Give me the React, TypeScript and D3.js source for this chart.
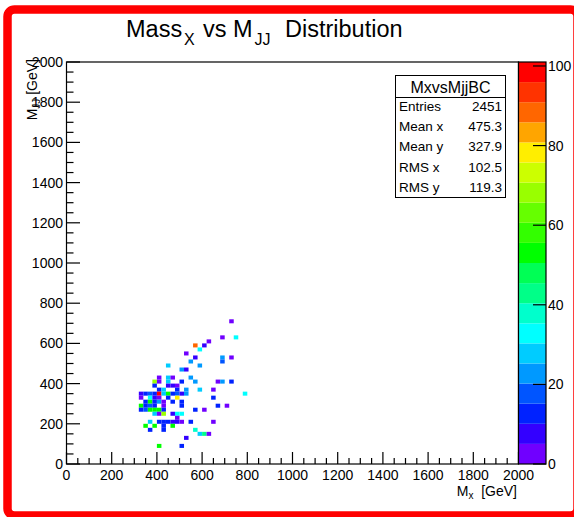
import React from "react";
import * as d3 from "d3";

const xMajorTicks = [0, 200, 400, 600, 800, 1000, 1200, 1400, 1600, 1800, 2000];
const yMajorTicks = [0, 200, 400, 600, 800, 1000, 1200, 1400, 1600, 1800, 2000];
const zTicks = [0, 20, 40, 60, 80, 100];
const binWidth = 20;
const zMax = 101;

// bin lower edges (GeV) and contents
const binX = [
  720, 680, 740, 620, 560, 600, 580, 520, 560, 680, 680, 720, 540, 440, 580, 500, 520,
  400, 440, 460, 540,
  380, 400, 440, 500, 560, 660, 680, 720,
  380, 440, 460, 480,
  400, 420, 480, 520, 580, 640,
  320, 340, 360, 380, 400, 420, 440, 460, 480, 500, 520, 780,
  320, 360, 380, 400, 440, 480, 640,
  340, 360, 380, 400, 420, 460, 500,
  320, 340, 360, 380, 420, 500, 660, 700,
  320, 340, 360, 380, 400, 420, 560, 600,
  380, 400, 420, 460, 480, 500,
  480,
  360, 400, 420, 440, 460, 480, 500, 540, 640,
  340, 380, 420, 460,
  360, 420, 560,
  580, 600, 620,
  520,
  400, 500,
];
const binY = [
  700, 620, 620, 600, 580, 580, 560, 540, 520, 520, 500, 520, 500, 480, 480, 460, 460,
  420, 420, 420, 420,
  400, 400, 400, 400, 400, 400, 400, 400,
  380, 380, 380, 380,
  360, 360, 360, 360, 360, 360,
  340, 340, 340, 340, 340, 340, 340, 340, 340, 340, 340, 340,
  320, 320, 320, 320, 320, 320, 320,
  300, 300, 300, 300, 300, 300, 300,
  280, 280, 280, 280, 280, 280, 280, 280,
  260, 260, 260, 260, 260, 260, 260, 260,
  240, 240, 240, 240, 240, 240,
  220,
  200, 200, 200, 200, 200, 200, 200, 200, 200,
  180, 180, 180, 180,
  160, 160, 160,
  140, 140, 140,
  120,
  80, 80,
];
const binZ = [
  3, 3, 33, 3, 88, 8, 33, 3, 8, 23, 18, 3, 23, 28, 23, 23, 8,
  3, 28, 3, 23,
  70, 3, 28, 13, 23, 3, 23, 13,
  13, 8, 8, 3,
  13, 28, 13, 23, 28, 3,
  8, 13, 18, 13, 98, 28, 53, 13, 18, 8, 23, 33,
  3, 33, 8, 3, 13, 78, 13,
  13, 53, 13, 23, 3, 13, 13,
  53, 13, 18, 13, 3, 13, 13, 3,
  13, 18, 53, 53, 53, 13, 13, 3,
  28, 3, 70, 8, 33, 33,
  3,
  28, 13, 13, 13, 8, 8, 3, 13, 3,
  53, 53, 13, 53,
  13, 13, 38,
  28, 43, 3,
  8,
  53, 13,
];

const paletteColors = [
  "#7000ff", "#3300ff", "#0022ff", "#0055ff", "#0099ff",
  "#00ccff", "#00ffff", "#00ffcc", "#00ff88", "#00ff55",
  "#00ff00", "#33ff00", "#66ff00", "#99ff00", "#ccff00",
  "#ffee00", "#ffa500", "#ff6600", "#ff3300", "#ff0000",
];

const statsTitle = "MxvsMjjBC";
const statsLabels = ["Entries", "Mean x", "Mean y", "RMS x", "RMS y"];
const statsValues = ["2451", "475.3", "327.9", "102.5", "119.3"];

const FONT = "'Liberation Sans', Arial, Helvetica, sans-serif";

export default function App() {
  const W = 574, H = 517;
  const L = 66.5, R = 518.5, T = 62, B = 464;
  const x = d3.scaleLinear().domain([0, 2000]).range([L, R]);
  const y = d3.scaleLinear().domain([0, 2000]).range([B, T]);
  const z = d3.scaleLinear().domain([0, zMax]).range([B, T]);
  const color = d3.scaleQuantize<string>().domain([0, zMax]).range(paletteColors);
  const minor = d3.range(0, 2001, 50);
  const cbL = 518.5, cbR = 546;
  const bandEdges = d3.range(0, 21).map((i) => (i * zMax) / 20);

  const sx0 = 395.5, sx1 = 505.5, sy0 = 75.5, sySep = 97.5, sy1 = 197.5;
  const rowBase = [111, 131, 151, 171.5, 191.5];

  return (
    <svg width={W} height={H} style={{ position: "absolute", left: 0, top: 0, background: "#fff" }} fontFamily={FONT}>
      <rect x={0} y={0} width={W} height={H} fill="#fff" />
      {/* red canvas frame */}
      <rect x={7.5} y={9.5} width={570} height={506} rx={7} fill="none" stroke="#ff0000" strokeWidth={8.5} />

      {/* title */}
      <text y={36.5} fontSize={23.5} fill="#000">
        <tspan x={126}>Mass</tspan>
        <tspan x={184} y={45} fontSize={16}>X</tspan>
        <tspan x={203} y={36.5}>vs M</tspan>
        <tspan x={254.5} y={45} fontSize={16}>JJ</tspan>
        <tspan x={285} y={36.5}>Distribution</tspan>
      </text>

      {/* bins */}
      {binX.map((bx, i) => (
        <rect
          key={i}
          x={x(bx)}
          y={y(binY[i] + binWidth)}
          width={x(bx + binWidth) - x(bx)}
          height={y(binY[i]) - y(binY[i] + binWidth)}
          fill={color(binZ[i])}
        />
      ))}

      {/* frame */}
      <rect x={L} y={T} width={R - L} height={B - T} fill="none" stroke="#000" strokeWidth={1.2} />

      {/* x ticks */}
      {minor.map((t) => {
        const major = t % 200 === 0;
        return <line key={"xm" + t} x1={x(t)} x2={x(t)} y1={B} y2={B - (major ? 12 : 6)} stroke="#000" strokeWidth={1.2} />;
      })}
      {xMajorTicks.map((t) => (
        <text key={"xl" + t} x={x(t)} y={479.5} fontSize={14} textAnchor="middle" fill="#000">{t}</text>
      ))}

      {/* y ticks */}
      {minor.map((t) => {
        const major = t % 200 === 0;
        return <line key={"ym" + t} x1={L} x2={L + (major ? 13.5 : 7)} y1={y(t)} y2={y(t)} stroke="#000" strokeWidth={1.2} />;
      })}
      {yMajorTicks.map((t) => (
        <text key={"yl" + t} x={63} y={y(t) + 5} fontSize={14} textAnchor="end" fill="#000">{t}</text>
      ))}

      {/* axis titles */}
      <text x={517} y={496} fontSize={14} textAnchor="end" fill="#000">
        M<tspan fontSize={10} dy={3}>x</tspan><tspan dy={-3}>{"\u00a0\u00a0[GeV]"}</tspan>
      </text>
      <text transform={`translate(37,59) rotate(-90)`} fontSize={14} textAnchor="end" fill="#000">
        M<tspan fontSize={10} dy={3}>JJ</tspan><tspan dy={-3}>{"\u00a0[GeV]"}</tspan>
      </text>

      {/* colour bar */}
      {paletteColors.map((c, i) => (
        <rect key={"cb" + i} x={cbL} y={z(bandEdges[i + 1])} width={cbR - cbL} height={z(bandEdges[i]) - z(bandEdges[i + 1])} fill={c} />
      ))}
      <rect x={cbL} y={T} width={cbR - cbL} height={B - T} fill="none" stroke="#000" strokeWidth={1.2} />
      {zTicks.map((t) => (
        <g key={"zt" + t}>
          <line x1={cbR} x2={cbR - 13} y1={z(t)} y2={z(t)} stroke="#000" strokeWidth={1.2} />
          <text x={548} y={z(t) + 5} fontSize={14} fill="#000">{t}</text>
        </g>
      ))}

      {/* stats box */}
      <rect x={sx0} y={sy0} width={sx1 - sx0} height={sy1 - sy0} fill="#fff" stroke="#000" strokeWidth={1} />
      <line x1={sx0} x2={sx1} y1={sySep} y2={sySep} stroke="#000" strokeWidth={1} />
      <text x={(sx0 + sx1) / 2} y={92.5} fontSize={16} textAnchor="middle" fill="#000">{statsTitle}</text>
      {statsLabels.map((lab, i) => (
        <g key={"st" + i}>
          <text x={399} y={rowBase[i]} fontSize={13.5} fill="#000">{lab}</text>
          <text x={502} y={rowBase[i]} fontSize={13.5} textAnchor="end" fill="#000">{statsValues[i]}</text>
        </g>
      ))}
    </svg>
  );
}
